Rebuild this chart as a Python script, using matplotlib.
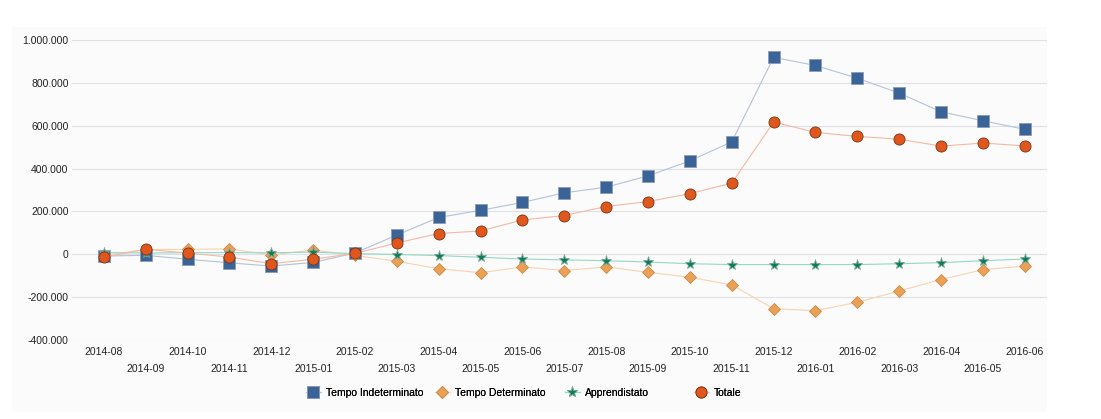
import numpy as np
import matplotlib
matplotlib.use("Agg")
import matplotlib.pyplot as plt
import matplotlib.ticker as ticker
from matplotlib.lines import Line2D
from matplotlib.patches import Rectangle

plt.rcParams['font.family'] = ['Liberation Sans', 'DejaVu Sans']

months = ['2014-08', '2014-09', '2014-10', '2014-11', '2014-12', '2015-01',
          '2015-02', '2015-03', '2015-04', '2015-05', '2015-06', '2015-07',
          '2015-08', '2015-09', '2015-10', '2015-11', '2015-12', '2016-01',
          '2016-02', '2016-03', '2016-04', '2016-05', '2016-06']

indeterminato = [-8000, -5000, -23000, -40000, -55000, -38000, 6000, 90000,
                 172000, 205000, 242000, 287000, 313000, 366000, 436000, 525000,
                 919000, 881000, 822000, 752000, 665000, 623000, 583000]
determinato = [-5000, 22000, 23000, 25000, -3000, 20000, -5000, -33000,
               -67000, -86000, -59000, -76000, -59000, -84000, -107000, -143000,
               -254000, -263000, -224000, -171000, -118000, -72000, -55000]
apprendistato = [8000, 6000, 7000, 8000, 7000, 10000, 3000, -1000,
                 -6000, -14000, -22000, -26000, -30000, -36000, -44000, -48000,
                 -48000, -48000, -48000, -44000, -39000, -30000, -22000]
totale = [-14000, 23000, 6000, -13000, -44000, -23000, 4000, 53000,
          97000, 109000, 160000, 181000, 223000, 246000, 283000, 332000,
          617000, 569000, 550000, 537000, 505000, 519000, 506000]

labels = ['Tempo Indeterminato', 'Tempo Determinato', 'Apprendistato', 'Totale']
series = [indeterminato, determinato, apprendistato, totale]
# marker, size, face, edge, line colour
styles = [('s', 8, '#3a6397', '#8c9cb4', '#b4c2d8'),
          ('D', 6.5, '#eba055', '#c98a4a', '#f7d3b0'),
          ('*', 8, '#0f7d5c', '#7aa898', '#94d8c4'),
          ('o', 8, '#e0571d', '#7a3414', '#f3b9a3')]

fs = 7.5

fig = plt.figure(figsize=(11.01, 4.19), dpi=100)
fig.patch.set_facecolor('white')
fig.patches.append(Rectangle((12 / 1101, 1 - 412 / 419), (1047 - 12) / 1101, (412 - 27) / 419,
                             transform=fig.transFigure, facecolor='#fbfbfb',
                             edgecolor='none', zorder=-5))

ax = fig.add_axes([72 / 1101, 79 / 419, (1047 - 72) / 1101, 300 / 419])
ax.patch.set_alpha(0)

x = np.arange(len(months))
for lab, vals, (mk, ms, fc, ec, lc) in zip(labels, series, styles):
    ax.plot(x, vals, color=lc, lw=0.8, zorder=2)
for i, (lab, vals, (mk, ms, fc, ec, lc)) in enumerate(zip(labels, series, styles)):
    ax.plot(x, vals, ls='none', marker=mk, ms=ms, mfc=fc, mec=ec, mew=0.6, zorder=3 + i)

ax.set_ylim(-400000, 1000000)
ax.set_xlim(-0.76, 22.53)
ax.yaxis.set_major_locator(ticker.MultipleLocator(200000))
ax.yaxis.set_major_formatter(ticker.FuncFormatter(lambda v, p: '{:,.0f}'.format(v).replace(',', '.')))
ax.grid(axis='y', color='#e0e0e6', lw=0.8)
ax.set_axisbelow(True)
for s in ax.spines.values():
    s.set_visible(False)
ax.tick_params(axis='y', length=0, pad=2.5, labelsize=fs, labelcolor='#222222')
ax.tick_params(axis='x', length=0, pad=5, labelsize=fs, labelcolor='#222222')
ax.set_xticks(x)
ax.set_xticklabels([m if i % 2 == 0 else '\n' + m for i, m in enumerate(months)],
                   linespacing=1.85)

# legend items, one per series
leg_x = [306, 435, 565, 694]
for lab, (mk, ms, fc, ec, lc), lx in zip(labels, styles, leg_x):
    h = Line2D([], [], color=lc, lw=0.8, marker=mk, ms=ms, mfc=fc, mec=ec, mew=0.6)
    lg = fig.legend([h], [lab], loc='center left', bbox_to_anchor=(lx / 1101, 1 - 393 / 419),
                    frameon=False, fontsize=fs, handlelength=1.4, handletextpad=0.5,
                    borderaxespad=0, borderpad=0)
    fig.add_artist(lg)

plt.savefig('out.png', dpi=100)
